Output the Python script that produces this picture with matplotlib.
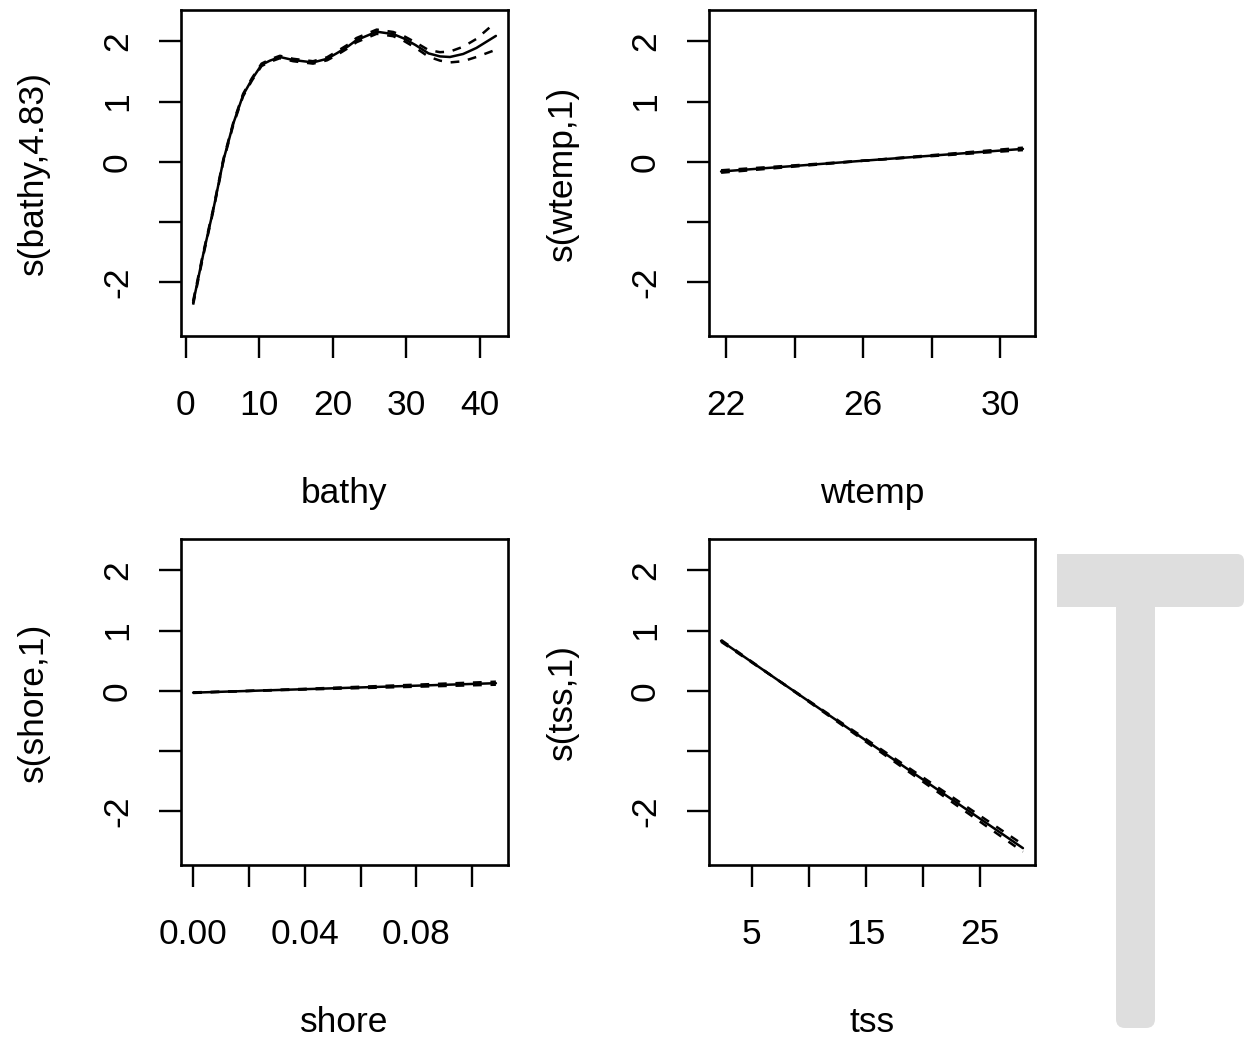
import matplotlib
matplotlib.use("Agg")
import matplotlib.pyplot as plt
import numpy as np
from matplotlib.patches import FancyBboxPatch, Rectangle

plt.rcParams["font.family"] = ["Liberation Sans", "DejaVu Sans"]
plt.rcParams["axes.unicode_minus"] = False

"""
data read off the gam smooths (fit and standard error)
"""

bathy_x = [1.0, 2.4, 3.75, 5.1, 6.5, 7.8, 9.0, 10.3, 11.45, 12.8, 14.6, 17.3, 19.2,
           20.5, 22.1, 23.2, 25.95, 28.2, 29.6, 31.2, 33.0, 34.55, 35.9, 37.7, 39.5, 42.15]
bathy_fit = [-2.34, -1.52, -0.79, 0.02, 0.65, 1.11, 1.37, 1.61, 1.68, 1.74, 1.69, 1.65, 1.71,
             1.80, 1.92, 2.02, 2.16, 2.12, 2.05, 1.94, 1.80, 1.75, 1.74, 1.79, 1.89, 2.09]
bathy_se = [0.03, 0.025, 0.02, 0.02, 0.02, 0.02, 0.02, 0.02, 0.02, 0.02, 0.02, 0.02, 0.025,
            0.03, 0.03, 0.035, 0.035, 0.035, 0.04, 0.045, 0.055, 0.07, 0.09, 0.12, 0.15, 0.23]

wtemp_x = [21.85, 26.2, 30.67]
wtemp_fit = [-0.16, 0.027, 0.215]
wtemp_se = [0.02, 0.0, 0.02]

shore_x = [0.0, 0.02, 0.1085]
shore_fit = [-0.03, -0.001, 0.127]
shore_se = [0.005, 0.0, 0.025]

tss_x = [2.32, 7.0, 28.74]
tss_fit = [0.83, 0.217, -2.61]
tss_se = [0.015, 0.0, 0.06]

y_ticks = [-2, -1, 0, 1, 2]
y_ticklabels = ["-2", "", "0", "1", "2"]

panels = [
    ("bathy", "s(bathy,4.83)", bathy_x, bathy_fit, bathy_se,
     [0, 10, 20, 30, 40], ["0", "10", "20", "30", "40"]),
    ("wtemp", "s(wtemp,1)", wtemp_x, wtemp_fit, wtemp_se,
     [22, 24, 26, 28, 30], ["22", "", "26", "", "30"]),
    ("shore", "s(shore,1)", shore_x, shore_fit, shore_se,
     [0.0, 0.02, 0.04, 0.06, 0.08, 0.10], ["0.00", "", "0.04", "", "0.08", ""]),
    ("tss", "s(tss,1)", tss_x, tss_fit, tss_se,
     [5, 10, 15, 20, 25], ["5", "", "15", "", "25"]),
]

"""
plot
"""

W, H = 1246, 1040
fig = plt.figure(figsize=(W / 100, H / 100), dpi=100)

# axes boxes in pixels: left, top, right, bottom
boxes = [(181, 10, 508, 336), (709, 10, 1035, 336),
         (181, 539, 508, 865), (709, 539, 1035, 865)]


def draw_smooth(ax, x, fit, se):
    x = np.asarray(x)
    fit = np.asarray(fit)
    se = np.asarray(se)
    ax.plot(x, fit, color="black", lw=1.8, solid_capstyle="round", solid_joinstyle="round")
    for band in (fit + se, fit - se):
        ax.plot(x, band, color="black", lw=1.8, dashes=(3.5, 3.5))
    # R style 4% axis expansion
    xr = x.max() - x.min()
    ax.set_xlim(x.min() - 0.04 * xr, x.max() + 0.04 * xr)


for (l, t, r, b), (xlab, ylab, x, fit, se, xt, xtl) in zip(boxes, panels):
    ax = fig.add_axes([l / W, (H - b) / H, (r - l) / W, (b - t) / H])
    draw_smooth(ax, x, fit, se)
    ax.set_ylim(-2.89, 2.52)
    ax.set_xticks(xt)
    ax.set_xticklabels(xtl)
    ax.set_yticks(y_ticks)
    ax.set_yticklabels(y_ticklabels, rotation=90, va="center")
    ax.tick_params(direction="out", length=15.8, width=1.7, labelsize=25.5)
    ax.tick_params(axis="x", pad=22.5)
    ax.tick_params(axis="y", pad=18)
    for sp in ax.spines.values():
        sp.set_linewidth(1.9)
    ax.set_xlabel(xlab, fontsize=25.5, va="center")
    ax.xaxis.set_label_coords(0.5, -157 / (b - t))
    ax.set_ylabel(ylab, fontsize=25.5, va="center")
    ax.yaxis.set_label_coords(-0.45, 0.5)

# grey T shape at the right edge
ov = fig.add_axes([0, 0, 1, 1], zorder=-1)
ov.set_xlim(0, W)
ov.set_ylim(H, 0)
ov.axis("off")
grey = "#dedede"
ov.add_patch(Rectangle((1057, 554), 160, 53, color=grey, lw=0))
ov.add_patch(FancyBboxPatch((1190, 554), 54, 53, boxstyle="round,pad=0,rounding_size=7", color=grey, lw=0))
ov.add_patch(Rectangle((1116, 600), 39, 400, color=grey, lw=0))
ov.add_patch(FancyBboxPatch((1116, 980), 39, 48, boxstyle="round,pad=0,rounding_size=9", color=grey, lw=0))

fig.savefig("out.png", dpi=100)
